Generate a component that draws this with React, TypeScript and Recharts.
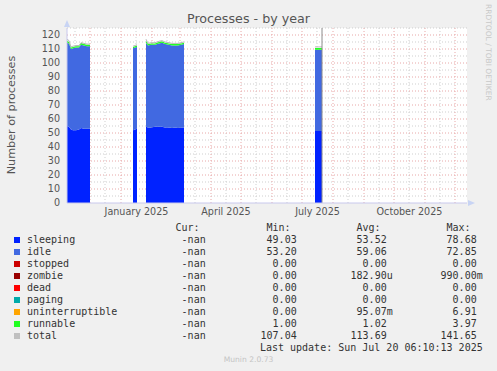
import React from 'react';
import { ComposedChart, Area, Line, XAxis, YAxis, CartesianGrid, ReferenceLine, ReferenceDot } from 'recharts';

// days counted from Nov 8 2024 (left edge of the plot); null rows break the areas
const days = [0, 2, 4, 6, 9, 12, 14, 17, 20, 23, 44, 66, 68, 70, 75, 79, 81, 84, 88, 92, 95, 98, 102, 105, 108, 111, 114, 117, 180, 248, 251, 255];
const sleeping = [55, 54.5, 52.5, 52, 52, 52.5, 53.5, 53, 53, 53, null, 52, 52.5, 53, null, 54.5, 54, 54, 54.5, 54.5, 54.5, 54, 54, 53.5, 54, 53.5, 54, 54, null, 51.5, 51.5, 51.5];
const idle = [59.5, 59.5, 57.5, 58.5, 59, 58.5, 59.5, 59.5, 59, 59, null, 58.5, 58.5, 58.5, null, 60, 58.5, 59, 58.5, 59.5, 60, 59.5, 59, 59, 58.5, 59, 59, 59.5, null, 58, 58, 58];
const zeros = [0, 0, 0, 0, 0, 0, 0, 0, 0, 0, null, 0, 0, 0, null, 0, 0, 0, 0, 0, 0, 0, 0, 0, 0, 0, 0, 0, null, 0, 0, 0];
const stopped = zeros;
const zombie = zeros;
const dead = zeros;
const paging = zeros;
const uninterruptible = zeros;
const runnable = [1.5, 1, 1, 1, 1, 1, 1.2, 1, 1, 1, null, 1, 1, 1, null, 1.5, 1, 1, 1, 1, 1, 1, 1, 1, 1, 1, 1, 1, null, 1.2, 1.2, 1.2];
const total = [117, 116, 111.5, 112, 112.5, 112.5, 114.5, 114, 113.5, 113.5, null, 112, 112.5, 113, null, 117, 114, 114.5, 114.5, 115.5, 116, 115, 114.5, 114, 114, 114, 114.5, 115, null, 111.5, 111.5, 111.5];

const monthStarts = [23, 54, 85, 113, 144, 174, 205, 235, 266, 297, 327, 358, 388];
const midMonths = [8, 38, 69, 100, 128, 159, 189, 220, 250, 281, 312, 342, 373];
const labelDays = [69.5, 159, 250.5, 342.5];
const labelNames = ['January 2025', 'April 2025', 'July 2025', 'October 2025'];
const yTicks = [0, 10, 20, 30, 40, 50, 60, 70, 80, 90, 100, 110, 120];
const yMinor = [5, 15, 25, 35, 45, 55, 65, 75, 85, 95, 105, 115, 125];
const nowDay = 255;

const seriesNames = ['sleeping', 'idle', 'stopped', 'zombie', 'dead', 'paging', 'uninterruptible', 'runnable', 'total'];
const seriesColors = ['#0022ff', '#4169e1', '#cc0000', '#990000', '#ff0000', '#00aaaa', '#ffa500', '#22ff22', '#c0c0c0'];
const curVals = ['-nan ', '-nan ', '-nan ', '-nan ', '-nan ', '-nan ', '-nan ', '-nan ', '-nan '];
const minVals = ['49.03 ', '53.20 ', '0.00 ', '0.00 ', '0.00 ', '0.00 ', '0.00 ', '1.00 ', '107.04 '];
const avgVals = ['53.52 ', '59.06 ', '0.00 ', '182.90u', '0.00 ', '0.00 ', '95.07m', '1.02 ', '113.69 '];
const maxVals = ['78.68 ', '72.85 ', '0.00 ', '990.00m', '0.00 ', '0.00 ', '6.91 ', '3.97 ', '141.65 '];

const data = days.map((d, i) => ({
  day: d,
  sleeping: sleeping[i],
  idle: idle[i],
  stopped: stopped[i],
  zombie: zombie[i],
  dead: dead[i],
  paging: paging[i],
  uninterruptible: uninterruptible[i],
  runnable: runnable[i],
  total: total[i],
}));

const stacked = seriesNames.slice(0, 8);
const mono = "'DejaVu Sans Mono', monospace";
const colEdges = [211.7, 302.7, 392.7, 482.7];

const UpArrow = (p: any) => (
  <polygon points={`${p.cx - 3},${p.cy - 1} ${p.cx + 3},${p.cy - 1} ${p.cx},${p.cy - 8}`} fill="#c8d4f4" />
);
const RightArrow = (p: any) => (
  <polygon points={`${p.cx + 1},${p.cy - 3} ${p.cx + 1},${p.cy + 3} ${p.cx + 8},${p.cy}`} fill="#c8d4f4" />
);

export default function App() {
  const rowY = (i: number) => 240 + i * 12;
  const cell = (text: string, edge: number, y: number, key: string) => (
    <span key={key} style={{ position: 'absolute', right: 497 - edge, top: y - 6, lineHeight: '12px', whiteSpace: 'pre' }}>{text}</span>
  );
  return (
    <div style={{ position: 'fixed', left: 0, top: 0, width: 497, height: 371, background: '#f0f0f0', fontFamily: "'DejaVu Sans', sans-serif", overflow: 'hidden' }}>
      <div style={{ position: 'absolute', left: 0, width: 497, top: 11, textAlign: 'center', fontSize: 12.7, color: '#555' }}>
        Processes - by year
      </div>
      <div style={{ position: 'absolute', left: 11, top: 115, transform: 'translate(-50%, -50%) rotate(-90deg)', fontSize: 11.2, color: '#555', whiteSpace: 'nowrap' }}>
        Number of processes
      </div>
      <div style={{ position: 'absolute', left: 484, top: 4, writingMode: 'vertical-rl', fontSize: 7.5, color: '#c8c8c8', whiteSpace: 'nowrap' }}>
        RRDTOOL / TOBI OETIKER
      </div>
      <div style={{ position: 'absolute', left: 0, top: 0 }}>
        <ComposedChart width={497} height={230} data={data} margin={{ top: 28, right: 30, bottom: 7, left: 17 }}>
          <CartesianGrid
            fill="#ffffff"
            horizontalValues={yMinor}
            verticalValues={midMonths}
            stroke="#cfcfcf"
            strokeDasharray="1 2"
          />
          <CartesianGrid
            horizontalValues={yTicks.slice(1)}
            verticalValues={monthStarts}
            stroke="#e8a8a8"
            strokeDasharray="1 2"
          />
          <XAxis
            dataKey="day"
            type="number"
            domain={[0, 400]}
            ticks={labelDays}
            tickFormatter={(v) => labelNames[labelDays.indexOf(v)] ?? ''}
            tickLine={false}
            tickSize={3}
            tickMargin={2}
            height={20}
            axisLine={{ stroke: '#c8c8ec' }}
            tick={{ fill: '#555', fontSize: 9.6 }}
            interval={0}
            allowDataOverflow
          />
          <YAxis
            type="number"
            domain={[0, 125]}
            ticks={yTicks}
            width={50}
            tickLine={false}
            tickSize={4}
            tickMargin={3}
            axisLine={{ stroke: '#c8c8ec' }}
            tick={{ fill: '#555', fontSize: 9.6 }}
            interval={0}
            allowDataOverflow
          />
          {stacked.map((k, i) => (
            <Area
              key={k}
              type="linear"
              dataKey={k}
              stackId="a"
              stroke="none"
              fill={seriesColors[i]}
              fillOpacity={1}
              dot={false}
              activeDot={false}
              isAnimationActive={false}
            />
          ))}
          <Line type="linear" dataKey="total" stroke="#b8b8b8" strokeWidth={1} dot={false} activeDot={false} isAnimationActive={false} />
          <ReferenceLine x={nowDay} stroke="#8c8c8c" strokeWidth={1} />
          <ReferenceDot x={0} y={125} r={3} shape={UpArrow} ifOverflow="visible" />
          <ReferenceDot x={400} y={0} r={3} shape={RightArrow} ifOverflow="visible" />
        </ComposedChart>
      </div>
      <div style={{ position: 'absolute', left: 0, top: 0, width: 497, height: 371, fontFamily: mono, fontSize: 10, color: '#333' }}>
        {cell('Cur:', 199.5, 228, 'hc')}
        {cell('Min:', 290.5, 228, 'hm')}
        {cell('Avg:', 380.5, 228, 'ha')}
        {cell('Max:', 470.5, 228, 'hx')}
        {seriesNames.map((n, i) => (
          <React.Fragment key={n}>
            <span style={{ position: 'absolute', left: 14, top: rowY(i) - 3, width: 6, height: 6, background: seriesColors[i] }} />
            <span style={{ position: 'absolute', left: 27, top: rowY(i) - 6, lineHeight: '12px', whiteSpace: 'pre' }}>{n}</span>
            {cell(curVals[i], colEdges[0], rowY(i), `c${i}`)}
            {cell(minVals[i], colEdges[1], rowY(i), `m${i}`)}
            {cell(avgVals[i], colEdges[2], rowY(i), `a${i}`)}
            {cell(maxVals[i], colEdges[3], rowY(i), `x${i}`)}
          </React.Fragment>
        ))}
        {cell('Last update: Sun Jul 20 06:10:13 2025', 482.7, 348, 'lu')}
        <div style={{ position: 'absolute', left: 0, width: 497, top: 355, textAlign: 'center', fontFamily: "'DejaVu Sans', sans-serif", fontSize: 7.6, color: '#c4c4c4' }}>
          Munin 2.0.73
        </div>
      </div>
    </div>
  );
}
